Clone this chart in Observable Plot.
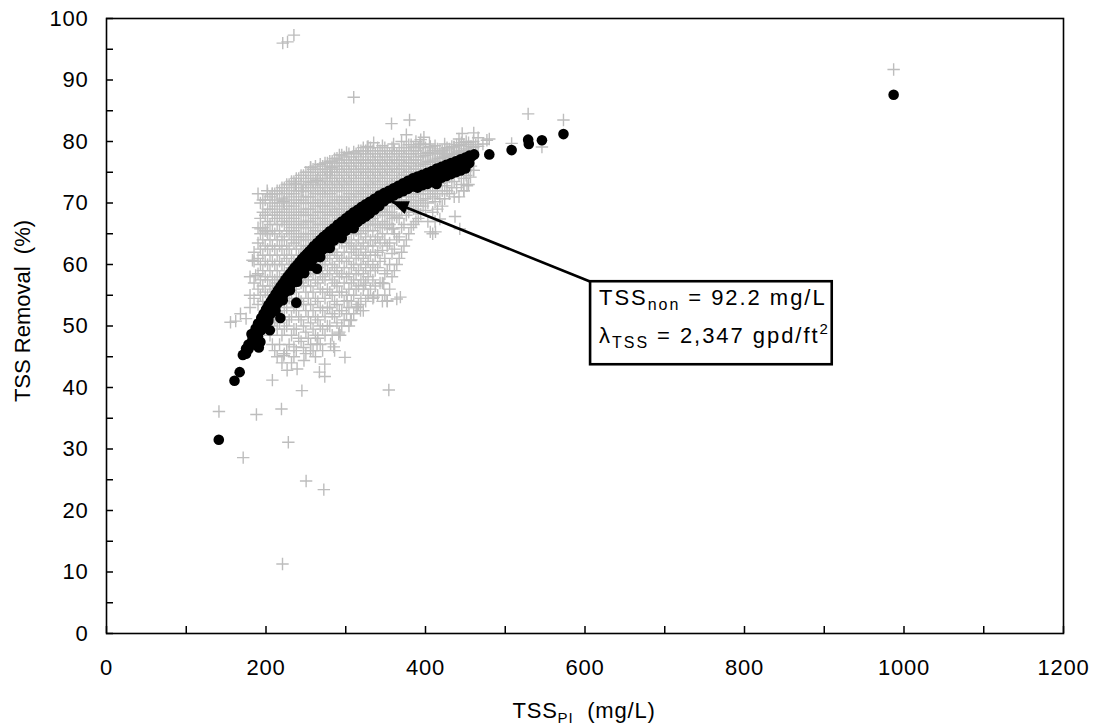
<!DOCTYPE html>
<html><head><meta charset="utf-8">
<script src="https://cdn.jsdelivr.net/npm/d3@7"></script>
<script src="https://cdn.jsdelivr.net/npm/@observablehq/plot@0.6"></script>
<style>
body{margin:0;background:#fff;}
svg{display:block;}
</style>
</head><body><div id="chart"></div>
<script>
// ---------- tick values ----------
const xTicks = [0,100,200,300,400,500,600,700,800,900,1000,1100,1200];
const xTickLabels = [0,200,400,600,800,1000,1200];
const yTicks = [0,5,10,15,20,25,30,35,40,45,50,55,60,65,70,75,80,85,90,95,100];
const yTickLabels = [0,10,20,30,40,50,60,70,80,90,100];

// ---------- measured TSS removal (gray crosses): [TSS_PI, [removal %...]] ----------
const measuredColumns = [
  [180,[53,55,58]],
  [185,[54.5,57,60.5,62]],
  [190,[53.5,56,58.5,61,63.5,66,71.5]],
  [196,[54,56.5,59,61.5,64,66,68.5,70.5]],
  [202,[55,57.5,60,62.5,65,67,69,71.5]],
  [208,[47,50,56,58,60.5,63,65.5,68,70,71.5]],
  [214,[45,49.5,57,59,61.5,64,66.5,68.5,70.5,72]],
  [220,[44,48.5,51.5,57.5,60,62.5,64.5,67,69,70.8,72.5]],
  [226,[46,50,53,58.5,61,63,65.5,67.5,69.5,71.5,73]],
  [232,[44,48.5,51.5,54,59.5,61.5,64,66,68,70,72,73.5]],
  [238,[46,49.5,52.5,55.5,60,62.5,64.5,66.5,68.5,70.5,72.5,74]],
  [244,[47.5,51,54,57,61,63,65,67,69,71,73,74.5]],
  [250,[45.5,49,52.5,55.5,58,62,64,66,68,70,72,73.5,75]],
  [256,[47,50.5,53.5,56.5,59,63,65,67,69,71,72.5,74,75.8]],
  [262,[45,48.5,51.5,54.5,57.5,60,63.5,65.5,67.5,69.5,71.5,73,74.5,76]],
  [268,[47,50,53,56,58.5,61,64.5,66.5,68.5,70,72,73.5,75,76.3]],
  [274,[48.5,51.5,54.5,57.5,60,62,65,67,69,71,72.5,74,75.5,76.5]],
  [280,[50,53,55.5,58.5,61,63,66,68,69.5,71.5,73,74.5,76,76.8]],
  [286,[46,51.5,54,57,59.5,62,66.5,68.5,70,72,73.5,75,76.5,77.2]],
  [292,[49,52.5,55.5,58,60.5,63.5,67.5,69,70.5,72.5,74,75.5,77,77.8]],
  [298,[51,54,57,59.5,62,64.5,68,69.5,71,73,74.5,76,77.5]],
  [304,[50,53,56,58.5,61,63.5,68.5,70,71.5,73.5,75,76.5,78]],
  [310,[52,55,57.5,60,62.5,65,69,70.5,72,74,75.5,77,78.3]],
  [316,[53.5,56.5,59,61.5,64,66,69.5,71,72.5,74.5,76,77.5,78.5]],
  [322,[52.5,56,58.5,61,63.5,66,70,71.5,73,75,76.5,78,79]],
  [328,[55,58,60.5,63,65.5,67,70.5,72,73.5,75,76.5,78,79.2]],
  [334,[54.5,57.5,60,63,65.5,67.5,71,72.5,74,75.5,77,78.5]],
  [340,[55,59.5,62,64.5,66.5,68.5,71.5,73,74.5,76,77.5,79]],
  [346,[54,57,62.3,65,67,69,72,73.5,75,76.5,78,79.3]],
  [352,[54,59,63,66,68,69.5,72.5,74,75.5,77,78.5]],
  [358,[58,61.8,65.8,67.5,69.5,73,74.5,76,77.5,79]],
  [364,[54.4,60,64,67.7,70,73.5,75,76.5,78]],
  [370,[62,66,69,70.5,74,75.5,77,78.5,80]],
  [376,[64,68,71,74.5,76,77.5,79]],
  [382,[66,69.5,71.5,75,76.5,78,79.5]],
  [388,[67,70,72,75.5,77,78.5,80]],
  [394,[68.2,70.4,72.5,76,77.5,79,80.3]],
  [400,[68.8,70.7,72.8,76.3,77.7,79]],
  [406,[65.3,71.5,73,76.6,78,79.2]],
  [412,[67,70.2,72,76.8,78,79.3]],
  [418,[67.4,70.7,73.2,77.2,78.3]],
  [424,[70.7,72.8,77.4,78.6,79.6]],
  [430,[71.5,74.2,77.6,78.8]],
  [436,[71,73.5,77.9,79.1]],
  [442,[71,74.5,78.1,79.3,80.4]],
  [448,[72,74,78.3,79.5]],
  [454,[73,75.3,78.6,79.8]],
  [460,[75.3,79,80]],
  [466,[79.2,80.6]],
  [472,[79.6]]
];
const measuredColumnsB = [
  [193,[55,57.5,60,62.5,65,67.5,70]],
  [199,[55.5,58,60.5,63,65.5,68,70.5]],
  [205,[48.5,56.5,59,61.5,64,66.5,69,71]],
  [211,[46,51,57.5,60,62.5,65,67.5,69.5,71.5]],
  [217,[47,50.5,58,60.5,63,65.5,68,70,72]],
  [223,[45.5,49.5,52.5,59,61.5,64,66.5,68.5,70.5,72.5]],
  [229,[47,51,54.5,60,62.5,65,67,69,71,73]],
  [235,[45,49.5,53,56,60.5,63.5,65.5,67.5,69.5,71.5,73.5]],
  [241,[48,51.5,54.5,57.5,61.5,64,66,68,70,72,74]],
  [247,[46.5,50,53.5,56.5,62.5,64.5,66.5,68.5,70.5,72.5,74.5]],
  [253,[48,51.5,54.5,57.5,63,65,67,69,71,73,75]],
  [259,[46,49.5,52.5,55.5,58.5,64,66,68,70,72,73.5,75.5]],
  [265,[48,51,54,57,59.5,64.5,66.5,68.5,70.5,72.5,74,75.5]],
  [271,[46,49.5,52.5,55.5,58,60.5,65.5,67.5,69.5,71.5,73,74.5,76]],
  [277,[50,53,56,59,61.5,66,68,70,72,73.5,75,76.5]],
  [283,[48.5,52,55,57.5,60,62.5,66.5,68.5,70.5,72.5,74,75.5,76.8]],
  [289,[50.5,53.5,56.5,59,61.5,64,67,69,71,73,74.5,76,77.3]],
  [295,[50,52.5,55.5,58.5,61,63.5,68,70,72,73.5,75,76.5,77.8]],
  [301,[52,55,58,60.5,63,65,68.5,70.5,72.5,74,75.5,77,78.2]],
  [307,[51,54,57,59.5,62,64,69,71,73,74.5,76,77.5]],
  [313,[53,56,58.5,61,63,65.5,69.5,71.5,73.5,75,76.5,78]],
  [319,[54.5,57.5,60,62.5,65,70,72,74,75.5,77,78.5]],
  [325,[54,57,59.5,62,64.5,66.5,70.5,72.5,74,75.5,77,78.5]],
  [331,[56,59,61.5,64,66.5,71,73,74.5,76,77.5,79]],
  [337,[56.5,59,61.5,64,66.5,68,71.5,73.5,75,76.5,78]],
  [343,[57,60.5,63.5,66,68.5,72,74,75.5,77,78.5]],
  [349,[55,58.5,61,64,66.5,68.5,72.5,74.5,76,77.5,79]],
  [355,[56,60,63.5,66.5,68.5,73,75,76.5,78]],
  [361,[59,62.5,65,68,70,73.5,75.5,77,78.5]],
  [367,[61,64.5,67.5,70,74,75.5,77,78.5]],
  [373,[63,66.5,69.5,74.5,76,77.5,79]],
  [379,[65,68.5,70.5,75,76.5,78,79.5]],
  [385,[66.5,69,71,75.5,77,78.5]],
  [391,[67.5,69.5,71.5,76,77.5,79]],
  [397,[69.5,71.5,76.5,78,79.5]],
  [403,[67,70,72,76.8,78.2]],
  [409,[68.5,71,73,77,78.5]],
  [415,[69,71.5,73.5,77.3,78.8]],
  [421,[69.5,72,77.5,78.5]],
  [427,[72,73.5,77.8,79]],
  [433,[72.5,74.5,78,79.2]],
  [439,[72.5,78.3,79.5]],
  [445,[73,75,78.5,79.8]],
  [451,[74.5,78.8,80]],
  [457,[76,79.2]],
  [463,[79.5]]
];
const measuredScattered = [
  [141,36.1],[171.4,28.6],[188,35.6],[219.4,36.5],[228,31.1],[250.3,24.8],[272.5,23.4],[245,39.5],
  [220.7,11.3],[221,96],[227,96.2],[235,97.3],[987,91.7],[310,87.2],[354,39.6],[208,41.2],
  [226.5,42.8],[239,43],[267,42.5],[273.7,43.8],[273.7,41.8],[299,44.9],[155.5,50.6],[162,50.8],
  [168,52],[175,51.2],[183,60.7],[187,58.2],[193,65.8],[201.5,65.3],[201.5,72],[207.8,71.5],
  [222.3,70.2],[237,73.1],[245.3,72],[255.8,73.4],[264,73.7],[276.7,74.5],[255.8,75.8],[283,75.8],
  [281,75],[357.4,82.9],[380,83.5],[376,81.1],[398,80.7],[393,79.6],[405,79.6],[446,81.3],
  [460.5,81.4],[477,80.2],[480,80.4],[508,79.7],[528.7,84.5],[546,79.1],[573,83.5],[335,79.8],
  [327,79.1],[360,79.6],[385,79.1],[406,79.1],[222.3,45.2],[235,46.6],[247.6,44.4],[255.8,46],
  [285,46.6],[291.2,48.7],[264,47.1],[281,47.1],[301.7,54.1],[314.3,53.1],[318.5,52.5],[306,50.9],
  [293,48.5],[322.6,56.6],[335,54.7],[352,54.1],[368.5,54.7],[347.7,56.9],[412.5,65.3],[360,65.8],
  [409,65],[443,65.8],[437,67.8],[448,72],[452,72.8],[456.4,74.2],[460.5,75.3],[427,74.2],
  [435.5,79.1],[423,78],[441.8,78]
];

// ---------- model-predicted TSS removal (black dots) ----------
const modelColumns = [
  [175,[46.3,45.5]],[178,[47.0,46.2]],[183,[48.5,47.8,47.0]],[187,[49.6,48.9,48.1]],
  [190,[50.4,49.8,49.0,48.3]],[194,[51.3,50.7,50.0,49.3]],[197,[52.0,51.4,50.7,50.0]],
  [200,[52.7,52.1,51.4,50.6]],[203,[53.4,52.8,52.1,51.4,50.8]],[206,[54.0,53.4,52.7,52.0]],
  [209,[54.6,54.0,53.3,52.6]],[212,[55.2,54.6,53.9,53.2,52.5]],[215,[55.8,55.2,54.5,53.8]],
  [218,[56.4,55.8,55.1,54.4]],[221,[56.9,56.3,55.6,54.9,54.2]],[224,[57.5,56.9,56.2,55.5]],
  [227,[58.0,57.4,56.7,56.0]],[230,[58.5,57.9,57.2,56.5,55.8]],[233,[59.0,58.4,57.7,57.0]],
  [236,[59.5,58.9,58.2,57.5]],[239,[59.9,59.3,58.6,57.9,57.2]],[242,[60.4,59.8,59.1,58.4]],
  [245,[60.9,60.3,59.6,58.9]],[248,[61.3,60.7,60.0,59.3,58.6]],[251,[61.7,61.1,60.4,59.7]],
  [254,[62.1,61.5,60.8,60.1]],[257,[62.5,61.9,61.2,60.5,59.8]],[260,[63.0,62.4,61.7,61.0]],
  [264,[63.5,62.9,62.2,61.5]],[268,[64.0,63.4,62.7,62.0,61.2]],[272,[64.5,63.9,63.2,62.5]],
  [276,[64.9,64.3,63.6,62.9]],[280,[65.4,64.8,64.1,63.4,62.7]],[285,[65.9,65.3,64.6,63.9]],
  [290,[66.5,65.9,65.2,64.5]],[295,[67.0,66.4,65.7,65.0,64.3]],[300,[67.5,66.9,66.2,65.5]],
  [305,[68.0,67.4,66.7,66.0]],[310,[68.5,67.9,67.2,66.5,65.9]],[315,[68.9,68.3,67.6,66.9]],
  [320,[69.4,68.8,68.1,67.4]],[325,[69.8,69.2,68.5,67.8]],[330,[70.2,69.6,68.9,68.3]],
  [336,[70.7,70.1,69.4,68.9]],[342,[71.2,70.6,69.9,69.5]],[348,[71.6,71.0,70.3]],
  [354,[72.0,71.4,70.8]],[360,[72.4,71.8,71.2]],[366,[72.8,72.2,71.6]],
  [372,[73.2,72.6,71.9]],[378,[73.6,73.0,72.3]],[384,[74.0,73.4,72.7]],
  [390,[74.3,73.7,73.0,72.5]],[396,[74.6,74.1,73.4,72.9]],[402,[74.9,74.4,73.7,73.1]],
  [408,[75.2,74.7,74.0,73.4]],[414,[75.6,75.1,74.4,73.7,73.1]],[420,[75.9,75.4,74.7,74.1]],
  [426,[76.2,75.7,75.0,74.4]],[432,[76.5,76.0,75.3,74.7]],[438,[76.8,76.3,75.6,75.0]],
  [444,[77.1,76.6,75.9,75.3]],[450,[77.4,76.9,76.2,75.6]],[455,[77.7,77.2,76.5]]
];
const modelScattered = [
  [140.8,31.5],[160.5,41.1],[167,42.5],[171,45.3],[180.5,47],[184.7,48.6],[191,46.5],[193,47.4],
  [181.8,48.7],[204.8,49.3],[218,51.3],[238,53.8],[264,59.3],[458,77.6],[461,77.9],[480,77.9],
  [508,78.6],[528.7,80.3],[529.5,79.6],[546,80.2],[573,81.2],[987,87.6]
];

// ---------- annotation ----------
const annotationTarget = [358, 70.2];
const annotationBox = {x1: 607, x2: 910, y1: 43.7, y2: 57.2};

// ---------- build tables ----------
const measured = measuredColumns.concat(measuredColumnsB)
  .flatMap(([x, ys]) => ys.map(y => ({x, y})))
  .concat(measuredScattered.map(([x, y]) => ({x, y})));
const model = modelColumns.flatMap(([x, ys]) => ys.map(y => ({x, y})))
  .concat(modelScattered.map(([x, y]) => ({x, y})));

const plusSymbol = {
  draw(context, size) {
    const h = Math.sqrt(size / Math.PI);
    context.moveTo(-h, 0); context.lineTo(h, 0);
    context.moveTo(0, -h); context.lineTo(0, h);
  }
};

const FONT = "'Liberation Sans', Arial, sans-serif";

const plot = Plot.plot({
  width: 1095,
  height: 727,
  marginTop: 18,
  marginRight: 32,
  marginBottom: 94,
  marginLeft: 106,
  style: {fontFamily: FONT, fontSize: "22px", color: "black", background: "white", overflow: "visible"},
  x: {domain: [0, 1200]},
  y: {domain: [0, 100]},
  marks: [
    Plot.dot(measured, {x: "x", y: "y", symbol: plusSymbol, r: 6.2, stroke: "#bdbdbd", strokeWidth: 1.4, fill: "none"}),
    Plot.dot(model, {x: "x", y: "y", r: 5.3, fill: "black", stroke: "none"}),
    Plot.link([{x1: annotationBox.x1, y1: annotationBox.y2, x2: annotationTarget[0], y2: annotationTarget[1]}],
      {x1: "x1", y1: "y1", x2: "x2", y2: "y2", stroke: "black", strokeWidth: 2.6}),
    Plot.rect([annotationBox], {x1: "x1", x2: "x2", y1: "y1", y2: "y2", fill: "white", stroke: "black", strokeWidth: 2.6}),
    Plot.axisX({ticks: xTicks, anchor: "bottom", tickSize: -7, tickFormat: () => "", strokeWidth: 1.5, label: null}),
    Plot.axisX({ticks: xTickLabels, anchor: "bottom", tickSize: 0, tickPadding: 26, label: null, tickFormat: d => String(d)}),
    Plot.axisY({ticks: yTicks, anchor: "left", tickSize: -7, tickFormat: () => "", strokeWidth: 1.5, label: null}),
    Plot.axisY({ticks: yTickLabels, anchor: "left", tickSize: 0, tickPadding: 18, label: null, tickFormat: d => String(d)}),
    Plot.frame({stroke: "black", strokeWidth: 1.6})
  ]
});

document.getElementById("chart").appendChild(plot);

const svg = d3.select(plot);
svg.selectAll("g[aria-label='x-axis tick label'] text, g[aria-label='y-axis tick label'] text")
  .style("letter-spacing", "0.8px");

const sx = plot.scale("x"), sy = plot.scale("y");
const X = v => sx.apply(v), Y = v => sy.apply(v);

// arrowhead (filled) at the annotation target
{
  const tx = X(annotationTarget[0]), ty = Y(annotationTarget[1]);
  const sx0 = X(annotationBox.x1), sy0 = Y(annotationBox.y2);
  const dx = tx - sx0, dy = ty - sy0, len = Math.hypot(dx, dy);
  const ux = dx / len, uy = dy / len, nx = -uy, ny = ux;
  const L = 17, W = 7;
  const bx = tx - ux * L, by = ty - uy * L;
  svg.append("path")
    .attr("d", `M${tx},${ty}L${bx + nx * W},${by + ny * W}L${bx - nx * W},${by - ny * W}Z`)
    .attr("fill", "black");
}

// annotation text
{
  const left = X(annotationBox.x1), top = Y(annotationBox.y2);
  const g = svg.append("g").attr("font-family", FONT).attr("font-size", 22).attr("fill", "black")
    .attr("text-anchor", "start").style("letter-spacing", "1.95px");
  const t1 = g.append("text").attr("x", left + 9).attr("y", top + 24);
  t1.append("tspan").text("TSS");
  t1.append("tspan").attr("font-size", 16).attr("dy", 5).text("non");
  t1.append("tspan").attr("dy", -5).text(" = 92.2 mg/L");
  const t2 = g.append("text").attr("x", left + 9).attr("y", top + 62);
  t2.append("tspan").text("\u03bb");
  t2.append("tspan").attr("font-size", 16).attr("dy", 5).text("TSS");
  t2.append("tspan").attr("dy", -5).text(" = 2,347 gpd/ft");
  t2.append("tspan").attr("font-size", 15).attr("dy", -9).text("2");
}

// axis titles
{
  svg.append("text")
    .attr("transform", `translate(30,311) rotate(-90)`)
    .attr("text-anchor", "middle").attr("font-family", FONT).attr("font-size", 22).attr("fill", "black")
    .text("TSS Removal\u00a0\u00a0(%)");
  const xl = svg.append("text")
    .attr("x", 584).attr("y", 718)
    .attr("text-anchor", "middle").attr("font-family", FONT).attr("font-size", 22).attr("fill", "black")
    .style("letter-spacing", "0.8px");
  xl.append("tspan").text("TSS");
  xl.append("tspan").attr("font-size", 15).attr("dy", 5).text("PI");
  xl.append("tspan").attr("dy", -5).text("\u00a0\u00a0(mg/L)");
}
</script>
</body></html>
